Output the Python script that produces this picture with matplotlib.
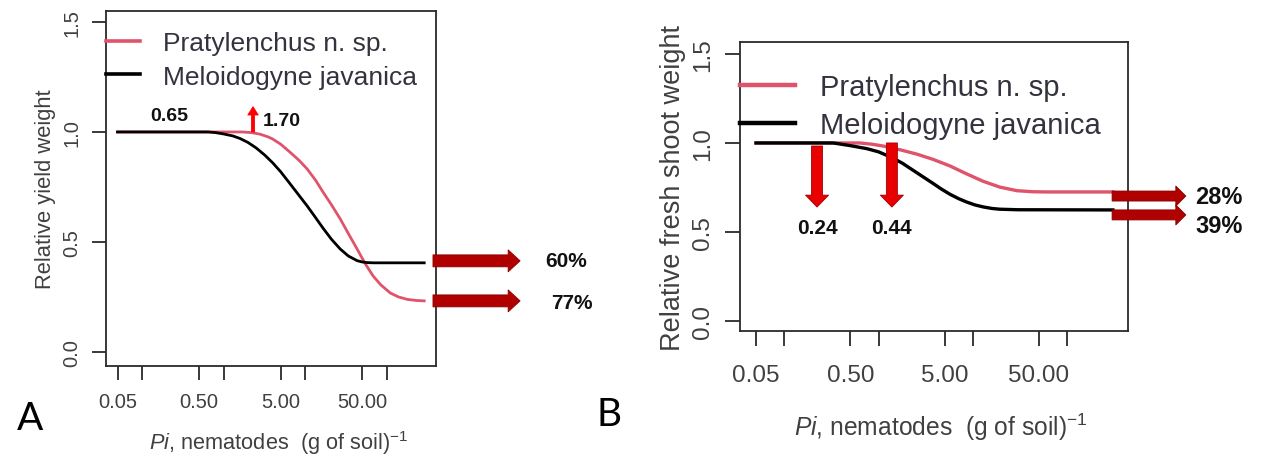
import matplotlib
matplotlib.use("Agg")
import matplotlib.pyplot as plt
from matplotlib import font_manager

plt.rcParams['font.family'] = ['Liberation Sans', 'DejaVu Sans']
plt.rcParams['mathtext.fontset'] = 'custom'

# R text in the picture looks horizontally squeezed: use the narrow face if it is there
names = {f.name for f in font_manager.fontManager.ttflist}
if 'Liberation Sans Narrow' in names:
    RFONT, F = 'Liberation Sans Narrow', 1.17
else:
    RFONT, F = 'Liberation Sans', 1.0
plt.rcParams['mathtext.rm'] = RFONT
plt.rcParams['mathtext.it'] = RFONT + ':italic'

PINK = '#DF536B'
TXT = '#33333f'
GREY = '#404040'

# Panel A: relative yield weight
a_mj_x = [0.05, 0.3, 0.65, 0.8, 1.0, 1.3, 1.6, 2.0, 2.5, 3.2, 4.0, 5.0, 6.5, 8.5,
          10.6, 13.5, 16.6, 21, 27, 34, 43.5, 50, 58, 70, 290]
a_mj_y = [1.0, 1.0, 1.0, 0.997, 0.991, 0.982, 0.970, 0.952, 0.928, 0.895, 0.860, 0.820,
          0.766, 0.710, 0.664, 0.610, 0.563, 0.513, 0.468, 0.436, 0.415, 0.409, 0.406,
          0.405, 0.405]
a_pr_x = [0.05, 1.0, 1.7, 2.2, 2.8, 3.5, 4.0, 5.0, 6.5, 8.5, 10.6, 13.5, 16.6, 21, 27,
          34, 43.5, 55, 68.5, 85, 111, 140, 179, 230, 290]
a_pr_y = [1.0, 1.0, 1.0, 0.997, 0.99, 0.978, 0.968, 0.945, 0.909, 0.87, 0.832, 0.78,
          0.727, 0.67, 0.605, 0.538, 0.468, 0.40, 0.345, 0.305, 0.268, 0.250, 0.239,
          0.234, 0.232]

# Panel B: relative fresh shoot weight
b_mj_x = [0.05, 0.33, 0.5, 0.75, 1.0, 1.42, 1.8, 2.15, 2.8, 3.77, 4.6, 5.7, 7.0, 8.6,
          10.5, 12.8, 16, 19.3, 30, 305]
b_mj_y = [1.0, 1.0, 0.985, 0.968, 0.950, 0.915, 0.885, 0.858, 0.818, 0.773, 0.742, 0.712,
          0.688, 0.668, 0.652, 0.641, 0.632, 0.628, 0.625, 0.624]
b_pr_x = [0.05, 0.63, 0.85, 1.11, 1.68, 2.55, 3.77, 5.7, 8.6, 12.8, 19.3, 29.3, 43.3, 60, 305]
b_pr_y = [1.0, 1.0, 0.993, 0.983, 0.962, 0.937, 0.908, 0.871, 0.826, 0.785, 0.752, 0.732,
          0.726, 0.725, 0.725]

xticks = [0.05, 0.1, 0.5, 1, 5, 10, 50, 100]
xticklabels = ['0.05', '', '0.50', '', '5.00', '', '50.00', '']
yticks = [0.0, 0.5, 1.0, 1.5]

species = ['Pratylenchus n. sp.', 'Meloidogyne javanica']
a_loss = ['60%', '77%']
b_loss = ['28%', '39%']
xlab = r'$\it{Pi}$, nematodes  (g of soil)$^{-1}$'

fig = plt.figure(figsize=(12.71, 4.56), dpi=100)
axA = fig.add_axes([0.0834, 0.1952, 0.2596, 0.7785])
axB = fig.add_axes([0.5822, 0.2719, 0.3053, 0.6338])


def style_axes(ax, tsize, tlen, ypad, xpad, xlim, ylim):
    ax.set_xscale('log')
    ax.set_xlim(*xlim)
    ax.set_ylim(*ylim)
    ax.set_xticks(xticks)
    ax.set_xticklabels(xticklabels)
    ax.minorticks_off()
    ax.set_yticks(yticks)
    ax.set_yticklabels(['0.0', '0.5', '1.0', '1.5'])
    for s in ax.spines.values():
        s.set_linewidth(1.3)
        s.set_color('#2a2a2a')
    ax.tick_params(axis='both', direction='out', length=tlen, width=1.3,
                   color='#2a2a2a', labelcolor=GREY, labelsize=tsize * F)
    ax.tick_params(axis='y', pad=ypad)
    ax.tick_params(axis='x', pad=xpad)
    for lab in ax.get_yticklabels() + ax.get_xticklabels():
        lab.set_family(RFONT)
    for lab in ax.get_yticklabels():
        lab.set_rotation(90)
        lab.set_horizontalalignment('center')
        lab.set_verticalalignment('center')
    for lab in ax.get_xticklabels():
        lab.set_verticalalignment('center')


def block_arrow(ax, tail, tip, coords, tw, hw, hl, fc, ec):
    ax.annotate('', xy=tip, xytext=tail, xycoords=coords, textcoords=coords,
                annotation_clip=False,
                arrowprops=dict(arrowstyle=f'simple,head_length={hl},head_width={hw},tail_width={tw}',
                                mutation_scale=10, fc=fc, ec=ec, lw=0.6,
                                shrinkA=0, shrinkB=0))


# ---- Panel A ----
axA.plot(a_pr_x, a_pr_y, color=PINK, lw=2.0, label=species[0])
axA.plot(a_mj_x, a_mj_y, color='black', lw=2.0, label=species[1])
style_axes(axA, 14.5, 10, 14.5, 15.5, (0.0361, 404), (-0.064, 1.55))
axA.set_ylabel('Relative yield weight', fontsize=15.8 * F, color=GREY, family=RFONT)
axA.yaxis.set_label_coords(-0.152, 0.5)
axA.set_xlabel(xlab, fontsize=15.7 * F, color=GREY, family=RFONT)
axA.xaxis.label.set_verticalalignment('center')
axA.xaxis.set_label_coords(0.524, -0.214)
legA = axA.legend(loc='upper left', bbox_to_anchor=(0, 0.943), frameon=False,
                  borderpad=0, borderaxespad=0, handlelength=1.29 / F, handletextpad=0.87 / F,
                  labelspacing=0.36 / F, prop={'family': RFONT, 'size': 19 * F})
for t in legA.get_texts():
    t.set_color(TXT)
for h in legA.get_lines():
    h.set_linewidth(2.6)

axA.text(0.214, 1.073, '0.65', fontsize=14, fontweight='bold', ha='center', va='center',
         color='#111111')
axA.text(3.05, 1.05, '1.70', fontsize=14, fontweight='bold', ha='left', va='center',
         color='#111111')
block_arrow(axA, (2.30, 1.0), (2.30, 1.115), 'data', 0.22, 0.75, 0.6, '#FF0000', '#FF0000')
a_levels = [0.414, 0.232]
a_text_x = [1.394, 1.412]
a_text_y = [0.414, 0.223]
for lvl, tx, ty, lab in zip(a_levels, a_text_x, a_text_y, a_loss):
    block_arrow(axA, (0.991, lvl), (1.255, lvl), ('axes fraction', 'data'),
                0.86, 1.58, 0.86, '#B00000', '#8A0000')
    axA.text(tx, ty, lab, transform=axA.get_yaxis_transform(), fontsize=15,
             fontweight='bold', ha='center', va='center', color='#111111', clip_on=False)

# ---- Panel B ----
axB.plot(b_pr_x, b_pr_y, color=PINK, lw=2.4, label=species[0])
axB.plot(b_mj_x, b_mj_y, color='black', lw=2.4, label=species[1])
style_axes(axB, 17.5, 10.8, 15.8, 21, (0.0338, 441), (-0.056, 1.567))
axB.set_ylabel('Relative fresh shoot weight', fontsize=19.5 * F, color=GREY, family=RFONT)
axB.yaxis.set_label_coords(-0.138, 0.498)
axB.set_xlabel(xlab, fontsize=17.7 * F, color=GREY, family=RFONT)
axB.xaxis.label.set_verticalalignment('center')
axB.xaxis.set_label_coords(0.518, -0.329)
legB = axB.legend(loc='upper left', bbox_to_anchor=(0, 0.893), frameon=False,
                  borderpad=0, borderaxespad=0, handlelength=1.88 / F, handletextpad=0.86 / F,
                  labelspacing=0.36 / F, prop={'family': RFONT, 'size': 21 * F})
for t in legB.get_texts():
    t.set_color(TXT)
for h in legB.get_lines():
    h.set_linewidth(3.2)

b_arrow_x = [0.222, 1.38]
b_arrow_top = [0.983, 1.0]
b_marks = ['0.24', '0.44']
for bx, top, lab in zip(b_arrow_x, b_arrow_top, b_marks):
    block_arrow(axB, (bx, top), (bx, 0.64), 'data', 0.79, 1.66, 0.86, '#E80000', '#A00000')
    axB.text(bx, 0.528, lab, fontsize=15, fontweight='bold', ha='center', va='center',
             color='#111111')
b_levels = [0.702, 0.596]
b_text_y = [0.702, 0.534]
for lvl, ty, lab in zip(b_levels, b_text_y, b_loss):
    block_arrow(axB, (0.959, lvl), (1.149, lvl), ('axes fraction', 'data'),
                0.72, 1.44, 0.72, '#B00000', '#8A0000')
    axB.text(1.174, ty, lab, transform=axB.get_yaxis_transform(), fontsize=17,
             fontweight='bold', ha='left', va='center', color='#111111', clip_on=False)

fig.text(30 / 1271, 1 - 419 / 456, 'A', fontsize=28, family='Lato', ha='center', va='center')
fig.text(609 / 1271, 1 - 415 / 456, 'B', fontsize=28, family='Lato', ha='center', va='center')

fig.savefig('out.png', dpi=100)
